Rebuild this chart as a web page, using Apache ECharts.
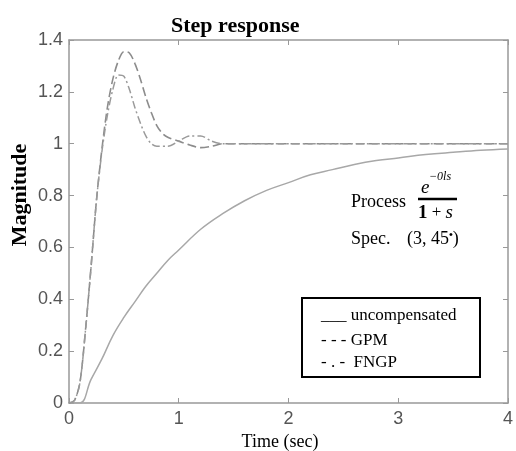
<!DOCTYPE html>
<html>
<head>
<meta charset="utf-8">
<script src="https://cdn.jsdelivr.net/npm/echarts@6/dist/echarts.min.js"></script>
<style>
html, body { margin: 0; padding: 0; background: #fff; }
#chart { width: 516px; height: 451px; }
</style>
</head>
<body>
<div id="chart"></div>
<script>
// step responses (time in sec)
var timeUncomp = [0, 0.1, 0.2, 0.3, 0.4, 0.5, 0.6, 0.7, 0.8, 0.9, 1.0, 1.2, 1.4, 1.6, 1.8, 2.0, 2.2, 2.4, 2.6, 2.8, 3.0, 3.25, 3.5, 3.75, 4.0];
var uncompensated = [0, 0, 0.09, 0.17, 0.26, 0.33, 0.39, 0.45, 0.50, 0.55, 0.59, 0.67, 0.73, 0.78, 0.82, 0.85, 0.88, 0.90, 0.92, 0.935, 0.945, 0.958, 0.967, 0.975, 0.98];

var timeGpm = [0, 0.05, 0.1, 0.15, 0.2, 0.25, 0.3, 0.35, 0.4, 0.45, 0.5, 0.55, 0.6, 0.65, 0.7, 0.75, 0.8, 0.85, 0.9, 1.0, 1.1, 1.2, 1.3, 1.4, 1.6, 2.0, 3.0, 4.0];
var gpm = [0, 0.01, 0.08, 0.28, 0.52, 0.78, 0.98, 1.14, 1.25, 1.32, 1.355, 1.35, 1.31, 1.25, 1.18, 1.12, 1.07, 1.04, 1.025, 1.01, 0.995, 0.985, 0.99, 1.0, 1.0, 1.0, 1.0, 1.0];

var timeFngp = [0, 0.05, 0.1, 0.15, 0.2, 0.25, 0.3, 0.35, 0.4, 0.45, 0.5, 0.55, 0.6, 0.65, 0.7, 0.75, 0.8, 0.9, 1.0, 1.1, 1.2, 1.3, 1.4, 1.6, 2.0, 3.0, 4.0];
var fngp = [0, 0.01, 0.08, 0.28, 0.52, 0.78, 0.97, 1.11, 1.21, 1.265, 1.26, 1.21, 1.14, 1.08, 1.03, 1.0, 0.99, 0.99, 1.01, 1.03, 1.03, 1.01, 1.0, 1.0, 1.0, 1.0, 1.0];

var xTicks = [0, 4, 1];      // min, max, step
var yTicks = [0, 1.4, 0.2];

function pairs(t, v) {
    return t.map(function (x, i) { return [x, v[i]]; });
}

var axisGrey = '#999';
var tickLabel = {
    color: '#555',
    fontFamily: 'Liberation Sans',
    fontSize: 18
};

function boxAxis(range, pos, labels) {
    return {
        type: 'value',
        position: pos,
        min: range[0],
        max: range[1],
        interval: range[2],
        axisLine: { show: true, onZero: false, lineStyle: { color: axisGrey, width: 1.5 } },
        axisTick: { show: true, inside: true, length: 5, lineStyle: { color: axisGrey } },
        splitLine: { show: false },
        axisLabel: labels ? Object.assign({
            margin: pos === 'bottom' ? 7 : 6,
            formatter: function (v) { return String(parseFloat(v.toFixed(1))); }
        }, tickLabel) : { show: false }
    };
}

var serif = 'Liberation Serif';
var chart = echarts.init(document.getElementById('chart'));
var option = {
    animation: false,
    backgroundColor: '#fff',
    title: {
        text: 'Step response',
        left: 166,
        top: 10,
        textStyle: {
            fontFamily: serif,
            fontWeight: 'bold',
            fontSize: 22,
            color: '#000'
        }
    },
    grid: { left: 69, right: 6, top: 40, bottom: 48 },
    xAxis: [boxAxis(xTicks, 'bottom', true), boxAxis(xTicks, 'top', false)],
    yAxis: [boxAxis(yTicks, 'left', true), boxAxis(yTicks, 'right', false)],
    series: [{
        name: 'uncompensated',
        type: 'line',
        showSymbol: false,
        smooth: 0.4,
        lineStyle: { color: '#a8a8a8', width: 1.5, type: 'solid' },
        data: pairs(timeUncomp, uncompensated)
    }, {
        name: 'GPM',
        type: 'line',
        showSymbol: false,
        smooth: 0.3,
        lineStyle: { color: '#8c8c8c', width: 1.6, type: [9, 4] },
        data: pairs(timeGpm, gpm)
    }, {
        name: 'FNGP',
        type: 'line',
        showSymbol: false,
        smooth: 0.3,
        lineStyle: { color: '#9a9a9a', width: 1.5, type: [8, 3, 2, 3] },
        data: pairs(timeFngp, fngp)
    }],
    graphic: [{
        type: 'text',
        x: 20, y: 195,
        rotation: Math.PI / 2,
        style: {
            text: 'Magnitude',
            fontFamily: serif, fontWeight: 'bold', fontSize: 22,
            fill: '#000', align: 'center', verticalAlign: 'middle'
        }
    }, {
        type: 'text',
        x: 280, y: 442,
        style: {
            text: 'Time (sec)',
            fontFamily: serif, fontSize: 18,
            fill: '#000', align: 'center', verticalAlign: 'middle'
        }
    }, {
        // process transfer function annotation
        type: 'group',
        children: [{
            type: 'text', x: 351, y: 202,
            style: { text: 'Process', fontFamily: serif, fontSize: 18, fill: '#000', verticalAlign: 'middle' }
        }, {
            type: 'text', x: 421, y: 188,
            style: { text: 'e', fontFamily: serif, fontStyle: 'italic', fontSize: 19, fill: '#000', verticalAlign: 'middle' }
        }, {
            type: 'text', x: 429, y: 177,
            style: { text: '\u22120ls', fontFamily: serif, fontStyle: 'italic', fontSize: 12, fill: '#000', verticalAlign: 'middle' }
        }, {
            type: 'line',
            shape: { x1: 418, y1: 199, x2: 457, y2: 199 },
            style: { stroke: '#000', lineWidth: 2.5 }
        }, {
            type: 'text', x: 418, y: 213,
            style: {
                text: '{b|1} + {i|s}',
                fontFamily: serif, fontSize: 17, fill: '#000', verticalAlign: 'middle',
                rich: {
                    b: { fontFamily: serif, fontWeight: 'bold', fontSize: 19, fill: '#000' },
                    i: { fontFamily: serif, fontStyle: 'italic', fontSize: 19, fill: '#000' }
                }
            }
        }, {
            type: 'text', x: 351, y: 239,
            style: { text: 'Spec.', fontFamily: serif, fontSize: 18, fill: '#000', verticalAlign: 'middle' }
        }, {
            type: 'text', x: 407, y: 239,
            style: {
                text: '(3, 45{s|\u2022})',
                fontFamily: serif, fontSize: 18, fill: '#000', verticalAlign: 'middle',
                rich: { s: { fontSize: 11, fill: '#000', verticalAlign: 'top', padding: [0, 0, 9, 0] } }
            }
        }]
    }, {
        // legend box drawn as text, like the original
        type: 'group',
        children: [{
            type: 'rect',
            shape: { x: 302, y: 298, width: 178, height: 79 },
            style: { fill: '#fff', stroke: '#000', lineWidth: 2 }
        }, {
            type: 'text', x: 321, y: 316,
            style: { text: '___ uncompensated', fontFamily: serif, fontSize: 17, fill: '#000', verticalAlign: 'middle' }
        }, {
            type: 'text', x: 321, y: 341,
            style: { text: '- - - GPM', fontFamily: serif, fontSize: 17, fill: '#000', verticalAlign: 'middle' }
        }, {
            type: 'text', x: 321, y: 363,
            style: { text: '- . -  FNGP', fontFamily: serif, fontSize: 17, fill: '#000', verticalAlign: 'middle' }
        }]
    }]
};
chart.setOption(option);
</script>
</body>
</html>
